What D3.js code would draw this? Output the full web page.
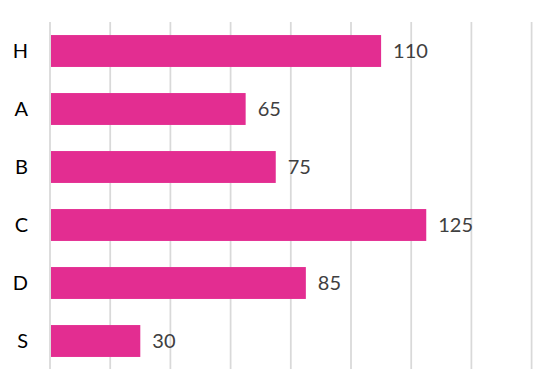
<!DOCTYPE html>
<html>
<head>
<meta charset="utf-8">
<script src="https://cdn.jsdelivr.net/npm/d3@7"></script>
<style>
  html, body { margin: 0; padding: 0; background: #fff; }
  svg { display: block; }
</style>
</head>
<body>
<svg id="chart" width="554" height="392"></svg>
<script>
const categories = ["H", "A", "B", "C", "D", "S"];
const values = [110, 65, 75, 125, 85, 30];
const xTicks = [0, 20, 40, 60, 80, 100, 120, 140, 160];

const svg = d3.select("#chart");
const x = d3.scaleLinear().domain([0, 160]).range([50, 531.6]);
const y = d3.scaleBand().domain(categories).range([22, 370]).paddingInner(0.45).paddingOuter(0.225);

// gridlines
svg.append("g")
  .selectAll("line")
  .data(xTicks)
  .join("line")
  .attr("x1", d => x(d)).attr("x2", d => x(d))
  .attr("y1", 22).attr("y2", 369)
  .attr("stroke", "#d9d9d9")
  .attr("stroke-width", 1.75);

const data = categories.map((c, i) => ({ c, v: values[i] }));

// bars
svg.append("g")
  .selectAll("rect")
  .data(data)
  .join("rect")
  .attr("x", x(0) + 1)
  .attr("y", d => y(d.c))
  .attr("width", d => x(d.v) - x(0) - 1)
  .attr("height", y.bandwidth())
  .attr("fill", "#E32D91");

// value labels
svg.append("g")
  .selectAll("text")
  .data(data)
  .join("text")
  .attr("x", d => x(d.v) + 12)
  .attr("y", d => y(d.c) + y.bandwidth() / 2)
  .attr("dy", "0.36em")
  .attr("fill", "#404040")
  .attr("font-family", "Lato, 'Open Sans', sans-serif")
  .attr("font-size", 20)
  .text(d => d.v);

// category axis
const yAxis = d3.axisLeft(y).tickSize(0).tickPadding(22);
const ga = svg.append("g").attr("transform", `translate(${x(0)},0)`).call(yAxis);
ga.select(".domain").remove();
ga.selectAll("text")
  .attr("fill", "#000")
  .attr("font-family", "Lato, 'Open Sans', sans-serif")
  .attr("font-size", 20)
  .attr("dy", "0.36em");
</script>
</body>
</html>
